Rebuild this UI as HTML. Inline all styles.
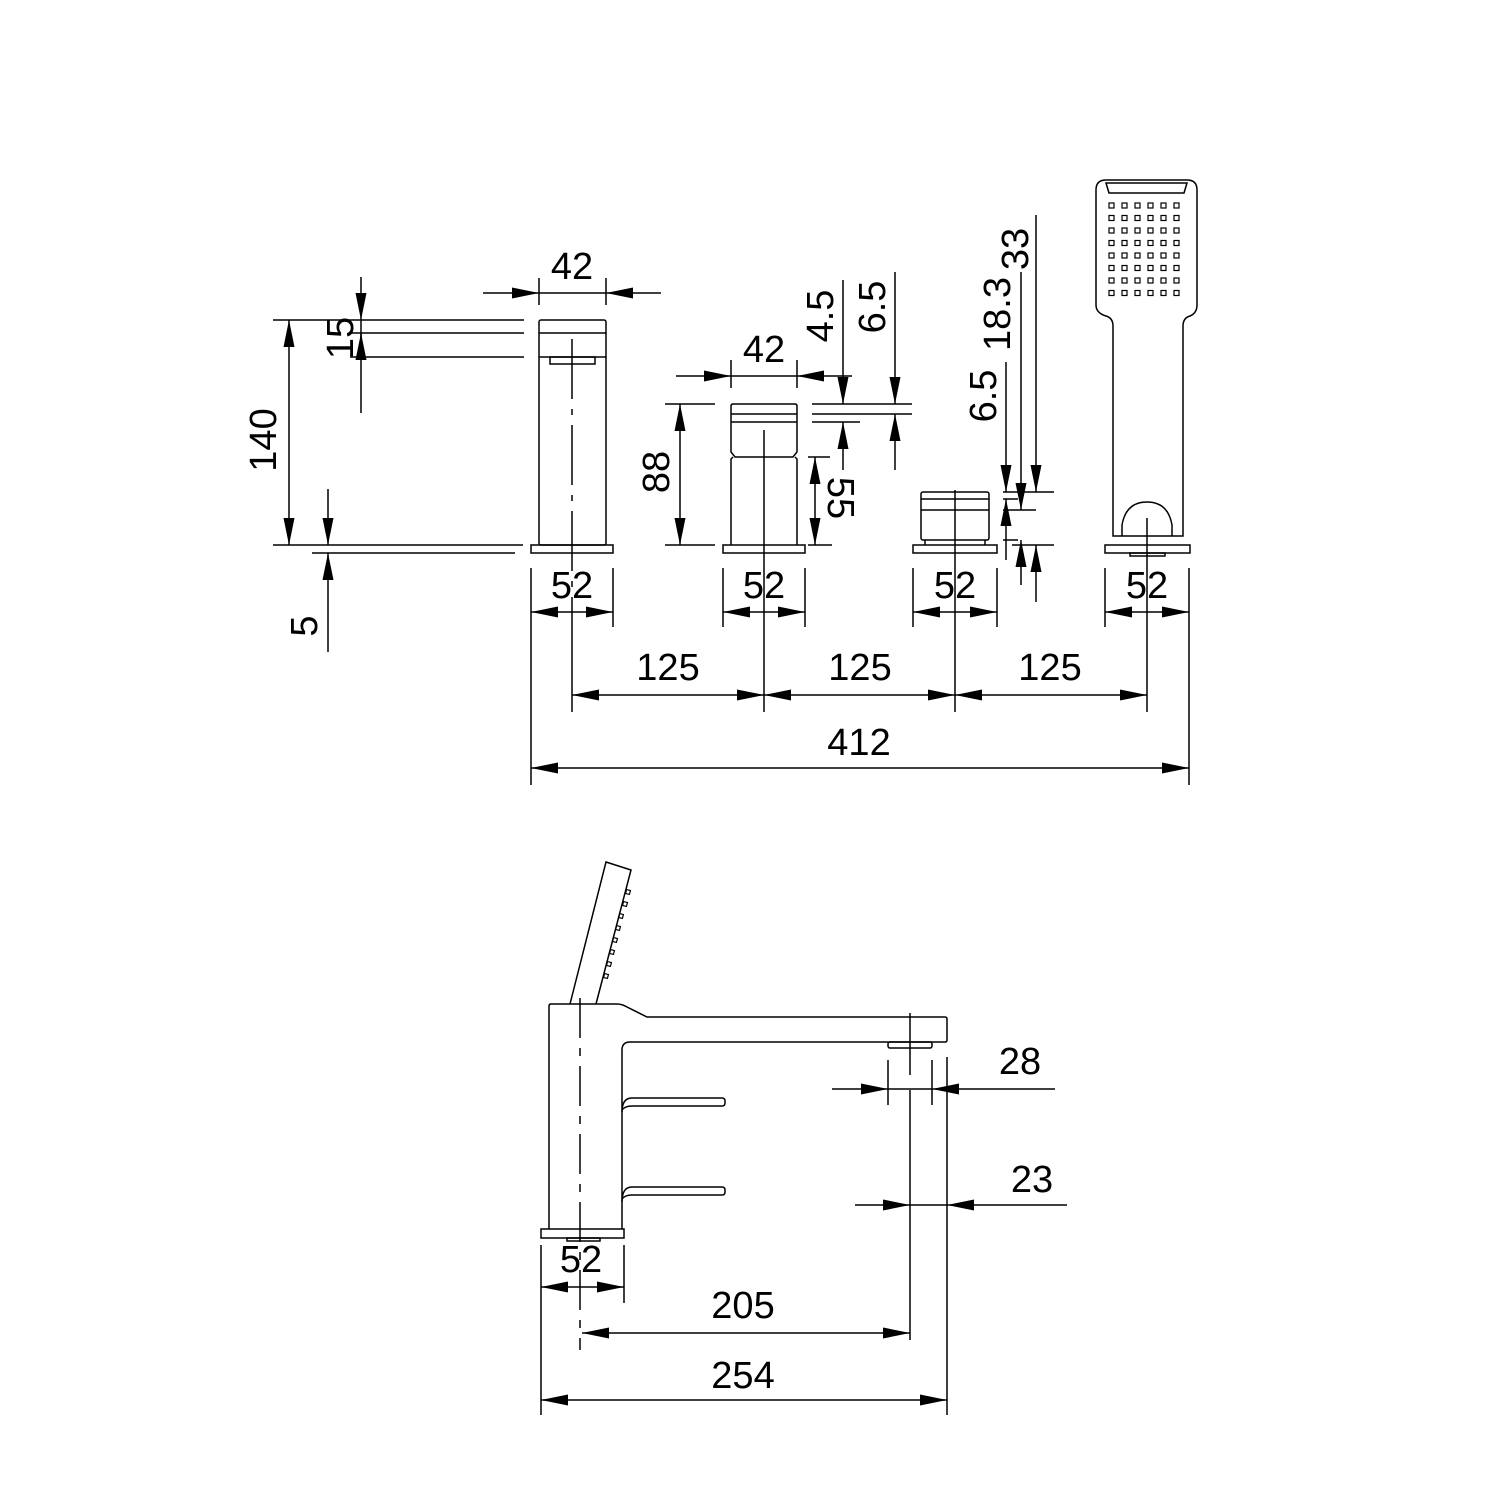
<!DOCTYPE html>
<html><head><meta charset="utf-8"><style>html,body{margin:0;padding:0;background:#fff}svg{display:block}text{font-family:"Liberation Sans",sans-serif;font-size:38px;fill:#000}</style></head>
<body>
<svg width="1500" height="1500" viewBox="0 0 1500 1500" xmlns="http://www.w3.org/2000/svg">
<defs>
<marker id="a" markerUnits="userSpaceOnUse" markerWidth="28" markerHeight="12" refX="27" refY="5.5" orient="auto"><path d="M0,0 L27,5.5 L0,11 Z" fill="#000"/></marker>
</defs>
<g stroke="#000" stroke-width="1.5" fill="none">
<rect x="539" y="320" width="67" height="225" rx="2"/>
<line x1="539" y1="333" x2="606" y2="333"/>
<line x1="539" y1="357" x2="606" y2="357"/>
<rect x="550" y="357" width="45" height="7"/>
<rect x="531" y="545" width="82" height="8"/>
<line x1="572" y1="339" x2="572" y2="625" stroke-dasharray="60 10 6 10"/>
<line x1="539" y1="278" x2="539" y2="305"/><line x1="606" y1="278" x2="606" y2="305"/>
<line x1="483" y1="293" x2="539" y2="293" marker-end="url(#a)"/>
<line x1="661" y1="293" x2="606" y2="293" marker-end="url(#a)"/>
<line x1="539" y1="293" x2="606" y2="293"/>
<line x1="273" y1="320" x2="524" y2="320"/>
<line x1="350" y1="333" x2="524" y2="333"/>
<line x1="350" y1="357" x2="524" y2="357"/>
<line x1="273" y1="545" x2="523" y2="545"/>
<line x1="312" y1="553" x2="515" y2="553"/>
<line x1="361" y1="277" x2="361" y2="320" marker-end="url(#a)"/>
<line x1="361" y1="413" x2="361" y2="333" marker-end="url(#a)"/>
<line x1="361" y1="320" x2="361" y2="357"/>
<line x1="289" y1="432" x2="289" y2="320" marker-end="url(#a)"/>
<line x1="289" y1="432" x2="289" y2="545" marker-end="url(#a)"/>
<line x1="328" y1="489" x2="328" y2="545" marker-end="url(#a)"/>
<line x1="328" y1="652" x2="328" y2="553" marker-end="url(#a)"/>

<path d="M731,452 L731,406 Q731,404 733,404 L795,404 Q797,404 797,406 L797,452 L793,457 L735,457 Z"/>
<line x1="731" y1="414" x2="797" y2="414"/>
<line x1="731" y1="422" x2="797" y2="422"/>
<path d="M733,457 L731,459 L731,545 M795,457 L797,459 L797,545"/>
<rect x="723" y="545" width="82" height="8"/>
<line x1="764" y1="430" x2="764" y2="712"/>
<line x1="731" y1="360" x2="731" y2="388"/><line x1="797" y1="360" x2="797" y2="388"/>
<line x1="676" y1="376" x2="731" y2="376" marker-end="url(#a)"/>
<line x1="852" y1="376" x2="797" y2="376" marker-end="url(#a)"/>
<line x1="731" y1="376" x2="797" y2="376"/>
<line x1="665" y1="404" x2="715" y2="404"/><line x1="665" y1="545" x2="715" y2="545"/>
<line x1="680" y1="474" x2="680" y2="404" marker-end="url(#a)"/>
<line x1="680" y1="474" x2="680" y2="545" marker-end="url(#a)"/>
<line x1="808" y1="457" x2="830" y2="457"/><line x1="808" y1="545" x2="832" y2="545"/>
<line x1="815" y1="500" x2="815" y2="457" marker-end="url(#a)"/>
<line x1="815" y1="500" x2="815" y2="545" marker-end="url(#a)"/>
<line x1="812" y1="404" x2="912" y2="404"/>
<line x1="812" y1="414" x2="912" y2="414"/>
<line x1="812" y1="422" x2="860" y2="422"/>
<line x1="843" y1="280" x2="843" y2="404" marker-end="url(#a)"/>
<line x1="843" y1="470" x2="843" y2="422" marker-end="url(#a)"/>
<line x1="895" y1="272" x2="895" y2="404" marker-end="url(#a)"/>
<line x1="895" y1="470" x2="895" y2="414" marker-end="url(#a)"/>

<rect x="921" y="492" width="68" height="48" rx="2"/>
<line x1="921" y1="499" x2="989" y2="499"/>
<line x1="921" y1="510" x2="989" y2="510"/>
<path d="M925,540 L925,545 M985,540 L985,545"/>
<rect x="913" y="545" width="84" height="8"/>
<line x1="955" y1="490" x2="955" y2="560"/>
<line x1="1003" y1="492" x2="1054" y2="492"/>
<line x1="1003" y1="499" x2="1018" y2="499"/>
<line x1="1003" y1="510" x2="1036" y2="510"/>
<line x1="1003" y1="540" x2="1018" y2="540"/>
<line x1="1012" y1="545" x2="1054" y2="545"/>
<line x1="1006" y1="362" x2="1006" y2="492" marker-end="url(#a)"/>
<line x1="1006" y1="560" x2="1006" y2="499" marker-end="url(#a)"/>
<line x1="1021" y1="272" x2="1021" y2="510" marker-end="url(#a)"/>
<line x1="1021" y1="585" x2="1021" y2="540" marker-end="url(#a)"/>
<line x1="1036" y1="215" x2="1036" y2="492" marker-end="url(#a)"/>
<line x1="1036" y1="602" x2="1036" y2="545" marker-end="url(#a)"/>

<path d="M1106,180 L1187,180 Q1197,180 1197,190 L1197,305 Q1197,313 1190,316 Q1183,318 1183,326 L1183,536 L1113,536 L1113,326 Q1113,318 1106,316 Q1096,313 1096,305 L1096,190 Q1096,180 1106,180 Z"/>
<path d="M1106,183 L1187,183 L1184,193 L1109,193 Z"/>
<path d="M1122,536 L1122,525 Q1126,502 1147,502 Q1168,502 1172,525 L1172,536"/>
<rect x="1105" y="545" width="85" height="8"/>
<rect x="1130" y="553" width="35" height="3"/>
<line x1="1147" y1="518" x2="1147" y2="565"/>
</g>
<g fill="none" stroke="#000" stroke-width="1.2">
<g id="row"><rect x="1109" y="203" width="5" height="5"/><rect x="1122" y="203" width="5" height="5"/><rect x="1135" y="203" width="5" height="5"/><rect x="1148" y="203" width="5" height="5"/><rect x="1161" y="203" width="5" height="5"/><rect x="1174" y="203" width="5" height="5"/></g>
<use href="#row" y="12.5"/><use href="#row" y="25"/><use href="#row" y="37.5"/><use href="#row" y="50"/><use href="#row" y="62.5"/><use href="#row" y="75"/><use href="#row" y="87.5"/>
</g>
<g stroke="#000" stroke-width="1.5" fill="none">
<line x1="531" y1="568" x2="531" y2="630"/><line x1="613" y1="568" x2="613" y2="627"/>
<line x1="572" y1="612" x2="531" y2="612" marker-end="url(#a)"/><line x1="572" y1="612" x2="613" y2="612" marker-end="url(#a)"/>
<line x1="723" y1="568" x2="723" y2="627"/><line x1="805" y1="568" x2="805" y2="627"/>
<line x1="764" y1="612" x2="723" y2="612" marker-end="url(#a)"/><line x1="764" y1="612" x2="805" y2="612" marker-end="url(#a)"/>
<line x1="913" y1="568" x2="913" y2="627"/><line x1="997" y1="568" x2="997" y2="627"/>
<line x1="955" y1="612" x2="913" y2="612" marker-end="url(#a)"/><line x1="955" y1="612" x2="997" y2="612" marker-end="url(#a)"/>
<line x1="1105" y1="568" x2="1105" y2="627"/><line x1="1189" y1="568" x2="1189" y2="785"/>
<line x1="1147" y1="612" x2="1105" y2="612" marker-end="url(#a)"/><line x1="1147" y1="612" x2="1189" y2="612" marker-end="url(#a)"/>
<line x1="572" y1="625" x2="572" y2="712"/><line x1="955" y1="560" x2="955" y2="712"/><line x1="1147" y1="565" x2="1147" y2="712"/>
<line x1="668" y1="695" x2="572" y2="695" marker-end="url(#a)"/><line x1="668" y1="695" x2="764" y2="695" marker-end="url(#a)"/>
<line x1="860" y1="695" x2="764" y2="695" marker-end="url(#a)"/><line x1="860" y1="695" x2="955" y2="695" marker-end="url(#a)"/>
<line x1="1050" y1="695" x2="955" y2="695" marker-end="url(#a)"/><line x1="1050" y1="695" x2="1147" y2="695" marker-end="url(#a)"/>
<line x1="531" y1="630" x2="531" y2="785"/>
<line x1="860" y1="768" x2="531" y2="768" marker-end="url(#a)"/><line x1="860" y1="768" x2="1189" y2="768" marker-end="url(#a)"/>

<path d="M570,1004 L606,862 L631,870 L596,1004"/>
<path d="M549,1229 L549,1006 Q549,1004 551,1004 L617,1004 Q622,1004 627,1007 L647,1017 L945,1017 Q947,1017 947,1019 L947,1040 Q947,1042 945,1042 L630,1042 Q622,1042 622,1050 L622,1229"/>
<path d="M622,1112 Q622,1098 632,1098 L722,1098 Q725,1098 725,1101 L725,1103 Q725,1106 722,1106 L632,1106 Q625,1106 622,1110"/>
<path d="M622,1202 Q622,1187 632,1187 L722,1187 Q725,1187 725,1190 L725,1192 Q725,1195 722,1195 L632,1195 Q625,1195 622,1199"/>
<rect x="541" y="1229" width="83" height="9"/>
<rect x="567" y="1238" width="33" height="3"/>
<rect x="888" y="1042" width="44" height="6" rx="2"/>
<line x1="580" y1="998" x2="580" y2="1350" stroke-dasharray="40 10 8 10"/>
<line x1="910" y1="1013" x2="910" y2="1075"/>
<line x1="910" y1="1090" x2="910" y2="1340"/>
<line x1="947" y1="1057" x2="947" y2="1415"/>
<line x1="888" y1="1060" x2="888" y2="1105"/><line x1="932" y1="1060" x2="932" y2="1105"/>
<line x1="832" y1="1089" x2="888" y2="1089" marker-end="url(#a)"/>
<line x1="1055" y1="1089" x2="932" y2="1089" marker-end="url(#a)"/>
<line x1="888" y1="1089" x2="932" y2="1089"/>
<line x1="855" y1="1205" x2="910" y2="1205" marker-end="url(#a)"/>
<line x1="1067" y1="1205" x2="947" y2="1205" marker-end="url(#a)"/>
<line x1="910" y1="1205" x2="947" y2="1205"/>
<line x1="541" y1="1245" x2="541" y2="1415"/><line x1="624" y1="1245" x2="624" y2="1303"/>
<line x1="582" y1="1287" x2="541" y2="1287" marker-end="url(#a)"/><line x1="582" y1="1287" x2="624" y2="1287" marker-end="url(#a)"/>
<line x1="745" y1="1333" x2="582" y2="1333" marker-end="url(#a)"/><line x1="745" y1="1333" x2="910" y2="1333" marker-end="url(#a)"/>
<line x1="745" y1="1400" x2="541" y2="1400" marker-end="url(#a)"/><line x1="745" y1="1400" x2="947" y2="1400" marker-end="url(#a)"/>
</g>
<g fill="none" stroke="#000" stroke-width="1.2">
<rect x="626" y="890" width="4" height="4" transform="rotate(15 628 892)"/>
<rect x="623" y="902" width="4" height="4" transform="rotate(15 625 904)"/>
<rect x="619" y="914" width="4" height="4" transform="rotate(15 621 916)"/>
<rect x="616" y="926" width="4" height="4" transform="rotate(15 618 928)"/>
<rect x="613" y="938" width="4" height="4" transform="rotate(15 615 940)"/>
<rect x="610" y="950" width="4" height="4" transform="rotate(15 612 952)"/>
<rect x="607" y="962" width="4" height="4" transform="rotate(15 609 964)"/>
<rect x="604" y="974" width="4" height="4" transform="rotate(15 606 976)"/>
</g>
<g text-anchor="middle">
<text x="572" y="279">42</text>
<text x="764" y="362">42</text>
<text x="572" y="598">52</text>
<text x="764" y="598">52</text>
<text x="955" y="598">52</text>
<text x="1147" y="598">52</text>
<text x="668" y="680">125</text>
<text x="860" y="680">125</text>
<text x="1050" y="680">125</text>
<text x="859" y="755">412</text>
<text x="1020" y="1074">28</text>
<text x="1032" y="1192">23</text>
<text x="581" y="1272">52</text>
<text x="743" y="1318">205</text>
<text x="743" y="1388">254</text>
<text transform="translate(353,338) rotate(-90)">15</text>
<text transform="translate(276,440) rotate(-90)">140</text>
<text transform="translate(317,626) rotate(-90)">5</text>
<text transform="translate(669,472) rotate(-90)">88</text>
<text transform="translate(828,498) rotate(90)">55</text>
<text transform="translate(833,316) rotate(-90)">4.5</text>
<text transform="translate(885,307) rotate(-90)">6.5</text>
<text transform="translate(996,396) rotate(-90)">6.5</text>
<text transform="translate(1010,314) rotate(-90)">18.3</text>
<text transform="translate(1028,249) rotate(-90)">33</text>
</g>
</svg>
</body></html>
